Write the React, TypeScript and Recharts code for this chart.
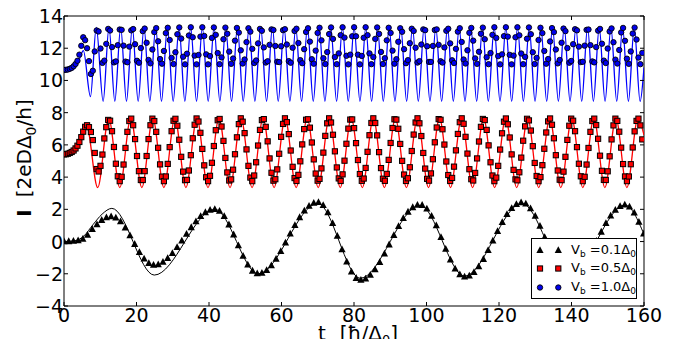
import React from "react";
import {
  ComposedChart,
  Line,
  Scatter,
  XAxis,
  YAxis,
  ReferenceArea,
  Legend,
} from "recharts";

const W = 678;
const H = 347;
const PLOT_L = 64;
const PLOT_R = 644;
const PLOT_T = 16;
const PLOT_B = 306;
const FONT = "'DejaVu Sans', Verdana, sans-serif";

const xTicks = [0, 20, 40, 60, 80, 100, 120, 140, 160];
const yTicks = [-4, -2, 0, 2, 4, 6, 8, 10, 12, 14];
const biasLabels = ["0.1", "0.5", "1.0"];

// analytic curves (lines): extrema
const blackLineT = [0, 3, 5.5, 8, 10.5, 13.2, 24.9, 41.6, 53.6, 70.0, 81.7, 98.2, 110.5, 126.3, 139.3, 154.8, 160];
const blackLineI = [0, 0.05, 0.35, 1.05, 1.7, 2.06, -2.08, 2.0, -2.0, 2.37, -2.28, 2.25, -2.15, 2.37, -2.1, 2.27, 0.45];

const redLineT = [
  0, 1.5, 3.0, 4.5, 6.2,
  9.3, 12.34, 15.38, 18.42, 21.47, 24.51, 27.55, 30.59, 33.63, 36.67,
  39.72, 42.76, 45.8, 48.84, 51.88, 54.92, 57.96, 61.01, 64.05, 67.09,
  70.13, 73.17, 76.21, 79.25, 82.3, 85.34, 88.38, 91.42, 94.46, 97.5,
  100.55, 103.59, 106.63, 109.67, 112.71, 115.75, 118.79, 121.84, 124.88, 127.92,
  130.96, 134.0, 137.04, 140.08, 143.13, 146.17, 149.21, 152.25, 155.29, 158.33,
  160,
];
const redLineI = [
  5.4, 5.45, 5.65, 6.2, 7.22,
  3.35, 7.65, 3.35, 7.65, 3.35, 7.65, 3.35, 7.65, 3.35, 7.65,
  3.35, 7.65, 3.35, 7.65, 3.35, 7.65, 3.35, 7.65, 3.35, 7.65,
  3.35, 7.65, 3.35, 7.65, 3.35, 7.65, 3.35, 7.65, 3.35, 7.65,
  3.35, 7.65, 3.35, 7.65, 3.35, 7.65, 3.35, 7.65, 3.35, 7.65,
  3.35, 7.65, 3.35, 7.65, 3.35, 7.65, 3.35, 7.65, 3.35, 7.65,
  6.6,
];

const blueLineT = [
  0, 1.5, 3.0, 4.2, 5.35, 7.3, 8.9,
  10.8, 12.41, 14.02, 15.63, 17.24, 18.85, 20.46, 22.07, 23.68, 25.29,
  26.9, 28.51, 30.12, 31.73, 33.34, 34.95, 36.56, 38.17, 39.78, 41.39,
  43.0, 44.61, 46.22, 47.83, 49.44, 51.05, 52.66, 54.27, 55.88, 57.49,
  59.1, 60.71, 62.32, 63.93, 65.54, 67.15, 68.76, 70.37, 71.98, 73.59,
  75.2, 76.81, 78.42, 80.03, 81.64, 83.25, 84.86, 86.47, 88.08, 89.69,
  91.3, 92.91, 94.52, 96.13, 97.74, 99.35, 100.96, 102.57, 104.18, 105.79,
  107.4, 109.01, 110.62, 112.23, 113.84, 115.45, 117.06, 118.67, 120.28, 121.89,
  123.5, 125.11, 126.72, 128.33, 129.94, 131.55, 133.16, 134.77, 136.38, 137.99,
  139.6, 141.21, 142.82, 144.43, 146.04, 147.65, 149.26, 150.87, 152.48, 154.09,
  155.7, 157.31, 158.92,
  160,
];
const blueLineI = [
  10.68, 10.72, 10.85, 11.3, 11.85, 9.0, 13.3,
  8.7, 13.3, 8.7, 13.3, 8.7, 13.3, 8.7, 13.3, 8.7, 13.3,
  8.7, 13.3, 8.7, 13.3, 8.7, 13.3, 8.7, 13.3, 8.7, 13.3,
  8.7, 13.3, 8.7, 13.3, 8.7, 13.3, 8.7, 13.3, 8.7, 13.3,
  8.7, 13.3, 8.7, 13.3, 8.7, 13.3, 8.7, 13.3, 8.7, 13.3,
  8.7, 13.3, 8.7, 13.3, 8.7, 13.3, 8.7, 13.3, 8.7, 13.3,
  8.7, 13.3, 8.7, 13.3, 8.7, 13.3, 8.7, 13.3, 8.7, 13.3,
  8.7, 13.3, 8.7, 13.3, 8.7, 13.3, 8.7, 13.3, 8.7, 13.3,
  8.7, 13.3, 8.7, 13.3, 8.7, 13.3, 8.7, 13.3, 8.7, 13.3,
  8.7, 13.3, 8.7, 13.3, 8.7, 13.3, 8.7, 13.3, 8.7, 13.3,
  8.7, 13.3, 8.7,
  10.8,
];

// simulated currents (markers), sampled on a uniform time grid
const TRI_DT = 1.3;
const MARK_DT = 0.53;

const triI = [
  0.0, 0.0, 0.02, 0.06, 0.15, 0.4, 0.75, 1.05, 1.32, 1.48, 1.54,
  1.47, 1.23, 0.85, 0.36, -0.17, -0.67, -1.08, -1.36, -1.47,
  -1.43, -1.28, -1.05, -0.74, -0.37, 0.04, 0.46, 0.87, 1.24, 1.56, 1.8, 1.95,
  2.0, 1.89, 1.56, 1.04, 0.42, -0.26, -0.91, -1.45, -1.83, -1.99,
  -1.96, -1.79, -1.5, -1.09, -0.61, -0.08, 0.47, 1.0, 1.49, 1.9, 2.2, 2.38,
  2.43, 2.24, 1.79, 1.13, 0.33, -0.5, -1.27, -1.89, -2.28,
  -2.4, -2.32, -2.09, -1.74, -1.29, -0.77, -0.2, 0.38, 0.94, 1.43, 1.83, 2.11, 2.26,
  2.25, 2.02, 1.58, 0.98, 0.26, -0.47, -1.14, -1.7, -2.06, -2.2,
  -2.13, -1.92, -1.56, -1.1, -0.55, 0.04, 0.63, 1.19, 1.68, 2.06, 2.31, 2.41,
  2.33, 2.04, 1.57, 0.96, 0.26, -0.44, -1.08, -1.6, -1.95, -2.1,
  -2.05, -1.85, -1.51, -1.07, -0.55, 0.02, 0.59, 1.13, 1.59, 1.95, 2.18, 2.27,
  2.15, 1.78, 1.2, 0.47,
];

const sqI = [
  5.41, 5.42, 5.45, 5.5, 5.56, 5.65, 5.78, 5.95, 6.18, 6.48, 6.82, 7.12,
  7.22, 7.1, 6.8, 6.3, 5.5, 4.5, 4.35, 4.7, 5.4, 6.4, 7.1, 7.55,
  7.5, 6.85, 5.87, 4.83, 4.05, 3.75, 4.02, 4.78, 5.81, 6.81, 7.48, 7.63, 7.22, 6.36, 5.31, 4.37, 3.82, 3.82, 4.37, 5.31, 6.36, 7.22, 7.63,
  7.48, 6.81, 5.82, 4.79, 4.03, 3.75, 4.04, 4.82, 5.86, 6.85, 7.5, 7.62, 7.19, 6.32, 5.26, 4.34, 3.81, 3.83, 4.41, 5.36, 6.41, 7.25, 7.64,
  7.45, 6.75, 5.75, 4.73, 3.99, 3.75, 4.08, 4.89, 5.93, 6.91, 7.53, 7.61, 7.14, 6.25, 5.19, 4.29, 3.79, 3.86, 4.46, 5.42, 6.47, 7.29, 7.65,
  7.44, 6.73, 5.72, 4.7, 3.97, 3.75, 4.1, 4.92, 5.96, 6.93, 7.54, 7.6, 7.12, 6.22, 5.16, 4.27, 3.78, 3.87, 4.48, 5.45, 6.5, 7.3, 7.65,
  7.41, 6.67, 5.65, 4.64, 3.94, 3.76, 4.14, 4.98, 6.03, 6.98, 7.56, 7.59, 7.07, 6.15, 5.1, 4.22, 3.78, 3.89, 4.54, 5.52, 6.56, 7.34, 7.65,
  7.39, 6.63, 5.6, 4.6, 3.92, 3.76, 4.17, 5.02, 6.07, 7.01, 7.57, 7.58, 7.04, 6.11, 5.06, 4.19, 3.77, 3.91, 4.57, 5.57, 6.6, 7.36, 7.65,
  7.36, 6.59, 5.55, 4.56, 3.9, 3.77, 4.2, 5.07, 6.12, 7.05, 7.59, 7.57, 7.0, 6.06, 5.01, 4.16, 3.76, 3.93, 4.61, 5.62, 6.64, 7.39, 7.65,
  7.34, 6.55, 5.5, 4.53, 3.89, 3.78, 4.23, 5.11, 6.16, 7.08, 7.6, 7.56, 6.97, 6.02, 4.97, 4.13, 3.76, 3.95, 4.65, 5.66, 6.68, 7.41, 7.65,
  7.31, 6.5, 5.46, 4.49, 3.87, 3.79, 4.26, 5.16, 6.21, 7.12, 7.61, 7.54, 6.93, 5.97, 4.92, 4.1, 3.75, 3.97, 4.7, 5.71, 6.72, 7.44, 7.64,
  7.28, 6.46, 5.41, 4.45, 3.86, 3.8, 4.3, 5.21, 6.26, 7.15, 7.62, 7.52, 6.89, 5.92, 4.88, 4.07, 3.75, 4.0, 4.74, 5.76, 6.77, 7.46, 7.64,
  7.25, 6.41, 5.36, 4.41, 3.84, 3.81, 4.34, 5.26, 6.31, 7.19, 7.63, 7.5, 6.85, 5.86, 4.83, 4.05, 3.75, 4.02, 4.78, 5.81, 6.81, 7.48, 7.63,
  7.23, 6.38, 5.33, 4.39, 3.83, 3.82, 4.36, 5.29, 6.34, 7.21, 7.63, 7.49, 6.82, 5.83, 4.81, 4.04, 3.75, 4.04, 4.8, 5.84, 6.84, 7.49, 7.63,
  7.21, 6.34,
];

const dotI = [
  10.65, 10.66, 10.68, 10.72, 10.78, 10.88, 11.02, 11.22, 11.6, 12.15, 12.68, 12.5,
  12.0, 11.2, 10.4, 10.6, 11.8, 13.1,
  13.04, 11.98, 11.09, 11.23, 12.27, 13.2,
  13.1, 12.07, 11.12, 11.18, 12.19, 13.16,
  13.14, 12.16, 11.17, 11.13, 12.1, 13.11,
  13.19, 12.25, 11.22, 11.1, 12.01, 13.06,
  13.22, 12.34, 11.27, 11.06, 11.92, 13.0,
  13.25, 12.43, 11.33, 11.04, 11.83, 12.94,
  13.27, 12.51, 11.4, 11.02, 11.75, 12.87,
  13.29, 12.6, 11.47, 11.0, 11.66, 12.79,
  13.3, 12.68, 11.54, 11.0, 11.58, 12.72,
  13.3, 12.76, 11.62, 11.0, 11.51, 12.64,
  13.29, 12.83, 11.7, 11.01, 11.43, 12.56,
  13.28, 12.9, 11.79, 11.03, 11.36, 12.47,
  13.26, 12.97, 11.87, 11.05, 11.3, 12.38,
  13.24, 13.03, 11.96, 11.08, 11.24, 12.3,
  13.2, 13.08, 12.05, 11.11, 11.19, 12.21,
  13.17, 13.13, 12.14, 11.16, 11.14, 12.12,
  13.12, 13.18, 12.23, 11.2, 11.1, 12.03,
  13.07, 13.21, 12.32, 11.26, 11.07, 11.94,
  13.01, 13.24, 12.41, 11.32, 11.04, 11.85,
  12.95, 13.27, 12.49, 11.38, 11.02, 11.76,
  12.88, 13.29, 12.58, 11.45, 11.01, 11.68,
  12.81, 13.3, 12.66, 11.53, 11.0, 11.6,
  12.74, 13.3, 12.74, 11.6, 11.0, 11.52,
  12.65, 13.3, 12.81, 11.68, 11.01, 11.45,
  12.58, 13.29, 12.89, 11.77, 11.02, 11.38,
  12.49, 13.27, 12.95, 11.85, 11.04, 11.32,
  12.4, 13.24, 13.02, 11.94, 11.07, 11.26,
  12.31, 13.21, 13.07, 12.03, 11.11, 11.2,
  12.23, 13.17, 13.12, 12.12, 11.15, 11.15,
  12.14, 13.13, 13.17, 12.21, 11.19, 11.11,
  12.05, 13.08, 13.21, 12.3, 11.25, 11.08,
  11.96, 13.03, 13.24, 12.39, 11.3, 11.05,
  11.87, 12.96, 13.26, 12.47, 11.37, 11.03,
  11.78, 12.9, 13.28, 12.56, 11.44, 11.01,
  11.7, 12.83, 13.3, 12.64, 11.51, 11.0,
  11.62, 12.75, 13.3, 12.72, 11.59, 11.0,
  11.54, 12.68, 13.3, 12.8, 11.67, 11.01,
  11.46, 12.59, 13.29, 12.87, 11.75, 11.02,
  11.4, 12.51, 13.27, 12.94, 11.83, 11.04,
  11.33, 12.42, 13.25, 13.0, 11.92, 11.06,
  11.27, 12.34, 13.22, 13.06, 12.01, 11.1,
  11.21, 12.25, 13.18, 13.11, 12.1, 11.14,
  11.16, 12.16, 13.14, 13.16, 12.19, 11.18,
  11.12, 12.07, 13.09, 13.2, 12.28, 11.23,
  11.08, 11.98, 13.04, 13.23, 12.37, 11.29,
  11.05, 11.89, 12.98, 13.26, 12.46, 11.35,
  11.03, 11.8, 12.91, 13.28, 12.54, 11.42,
  11.01, 11.71,
];

const pairs = (ts: number[], vs: number[]) => ts.map((t, i) => ({ t, v: vs[i] }));
const sampled = (vs: number[], dt: number) =>
  vs.map((v, i) => ({ t: Math.round(i * dt * 100) / 100, v }));

const blackLine = pairs(blackLineT, blackLineI);
const redLine = pairs(redLineT, redLineI);
const blueLine = pairs(blueLineT, blueLineI);
const triPts = sampled(triI, TRI_DT);
const sqPts = sampled(sqI, MARK_DT);
const dotPts = sampled(dotI, MARK_DT);

const fmt = (v: number) => (v < 0 ? "\u2212" + Math.abs(v) : String(v));

const Tri = ({ cx, cy }: any) => (
  <polygon
    points={`${cx},${cy - 4.2} ${cx - 3.6},${cy + 2.6} ${cx + 3.6},${cy + 2.6}`}
    fill="#000"
  />
);
const Sq = ({ cx, cy }: any) => (
  <rect x={cx - 2.6} y={cy - 2.6} width={5.2} height={5.2} fill="#ff0000" stroke="#000" strokeWidth={1} />
);
const Dot = ({ cx, cy }: any) => (
  <circle cx={cx} cy={cy} r={2.7} fill="#0000ee" stroke="#000" strokeWidth={0.9} />
);

const XTick = (props: any) => {
  const { x, payload } = props;
  return (
    <g>
      <line x1={x} x2={x} y1={PLOT_B} y2={PLOT_B - 4} stroke="#000" />
      <line x1={x} x2={x} y1={PLOT_T} y2={PLOT_T + 4} stroke="#000" />
      <text x={x} y={PLOT_B + 16} textAnchor="middle" fontSize={19} fontFamily={FONT} fill="#000">
        {fmt(payload.value)}
      </text>
    </g>
  );
};

const YTick = (props: any) => {
  const { y, payload } = props;
  return (
    <g>
      <line x1={PLOT_L} x2={PLOT_L + 4} y1={y} y2={y} stroke="#000" />
      <line x1={PLOT_R - 4} x2={PLOT_R} y1={y} y2={y} stroke="#000" />
      <text x={PLOT_L - 1} y={y + 7} textAnchor="end" fontSize={19} fontFamily={FONT} fill="#000">
        {fmt(payload.value)}
      </text>
    </g>
  );
};

const XTitle = () => (
  <text x={358} y={340} textAnchor="middle" fontSize={20} fontFamily={FONT} fill="#000">
    <tspan>t</tspan>
    <tspan dx={14}>[ħ/Δ</tspan>
    <tspan fontSize={13} dy={3.5}>0</tspan>
    <tspan dy={-3.5}>]</tspan>
  </text>
);

const YTitle = () => (
  <text
    transform="translate(31,158) rotate(-90)"
    textAnchor="middle"
    fontSize={20}
    fontFamily={FONT}
    fill="#000"
  >
    <tspan fontWeight="bold">I</tspan>
    <tspan dx={12}>[2eDΔ</tspan>
    <tspan fontSize={14} dy={5}>0</tspan>
    <tspan dy={-5}>/h]</tspan>
  </text>
);

const legendMarkers = [Tri, Sq, Dot];

const LegendBox = () => (
  <div
    style={{
      width: 106,
      height: 61,
      boxSizing: "border-box",
      border: "1px solid #000",
      background: "#fff",
      position: "relative",
      fontFamily: FONT,
      fontSize: 13,
      color: "#000",
    }}
  >
    {biasLabels.map((lab, i) => {
      const M = legendMarkers[i];
      return (
        <div
          key={lab}
          style={{ position: "absolute", left: 0, top: 1.5 + 18.6 * i, height: 19, width: 104 }}
        >
          <svg width={36} height={19} style={{ position: "absolute", left: 0, top: 0 }}>
            <M cx={8} cy={9.5} />
            <M cx={26.3} cy={9.5} />
          </svg>
          <span style={{ position: "absolute", left: 39, top: 1, whiteSpace: "pre", lineHeight: "16px" }}>
            V<sub style={{ fontSize: 9, verticalAlign: "-3px", lineHeight: 0 }}>b</sub>
            {" =" + lab + "Δ"}
            <sub style={{ fontSize: 9, verticalAlign: "-3px", lineHeight: 0 }}>0</sub>
          </span>
        </div>
      );
    })}
  </div>
);

export default function App() {
  return (
    <div style={{ margin: -8 }}>
      <ComposedChart
        width={W}
        height={H}
        margin={{ top: PLOT_T, right: W - PLOT_R, bottom: 0, left: 0 }}
      >
        <XAxis
          type="number"
          dataKey="t"
          domain={[0, 160]}
          ticks={xTicks}
          interval={0}
          tick={<XTick />}
          tickLine={false}
          axisLine={false}
          height={H - PLOT_B}
          allowDataOverflow
          label={<XTitle />}
        />
        <YAxis
          type="number"
          dataKey="v"
          domain={[-4, 14]}
          ticks={yTicks}
          interval={0}
          tick={<YTick />}
          tickLine={false}
          axisLine={false}
          width={PLOT_L}
          allowDataOverflow
          label={<YTitle />}
        />
        <ReferenceArea x1={0} x2={160} y1={-4} y2={14} fill="none" stroke="#000" strokeWidth={1} />
        <Line data={blackLine} dataKey="v" type="monotone" stroke="#000" strokeWidth={1} dot={false} activeDot={false} isAnimationActive={false} />
        <Line data={redLine} dataKey="v" type="monotone" stroke="#ff0000" strokeWidth={1.3} dot={false} activeDot={false} isAnimationActive={false} />
        <Line data={blueLine} dataKey="v" type="monotone" stroke="#0000ff" strokeWidth={1.3} dot={false} activeDot={false} isAnimationActive={false} />
        <Scatter data={triPts} dataKey="v" shape={Tri} isAnimationActive={false} />
        <Scatter data={sqPts} dataKey="v" shape={Sq} isAnimationActive={false} />
        <Scatter data={dotPts} dataKey="v" shape={Dot} isAnimationActive={false} />
        <Legend
          content={<LegendBox />}
          layout="horizontal"
          verticalAlign="middle"
          align="center"
          wrapperStyle={{ left: 531, top: 238, width: 106, height: 61 }}
        />
      </ComposedChart>
    </div>
  );
}
